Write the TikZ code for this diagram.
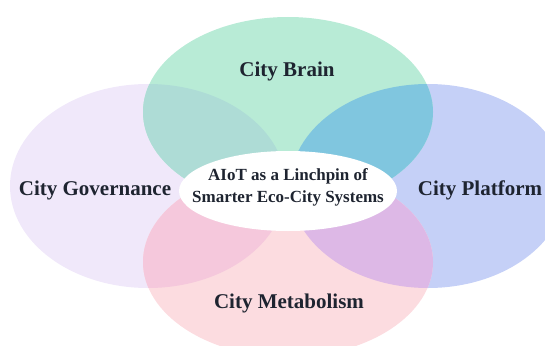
\documentclass[tikz,border=0pt]{standalone}
\usepackage{fontspec}
\setmainfont{Liberation Serif}
\usetikzlibrary{positioning}

\definecolor{ink}{HTML}{1E2430}
\definecolor{brain}{HTML}{B8EBD6}
\definecolor{gov}{HTML}{F0E8FA}
\definecolor{plat}{HTML}{C5D0F7}
\definecolor{metab}{HTML}{FCDCE0}
\definecolor{braingov}{HTML}{AEDCD6}
\definecolor{brainplat}{HTML}{80C6DF}
\definecolor{metabgov}{HTML}{F5C8DC}
\definecolor{metabplat}{HTML}{DDB8E6}

% ellipse paths (pixel units, y downwards)
\def\brainpath{(288,112) ellipse (145 and 95)}
\def\govpath{(148,186) ellipse (138 and 102)}
\def\platpath{(428,186) ellipse (138 and 102)}
\def\metabpath{(288,262) ellipse (145 and 95)}

\begin{document}
\begin{tikzpicture}[x=1pt, y=-1pt,
    ring label/.style={font=\fontsize{21}{25}\selectfont\bfseries, text=ink},
    hub label/.style={font=\fontsize{17}{22}\selectfont\bfseries, text=ink, align=center}]

		\useasboundingbox (0,0) rectangle (545,345);

		\fill[gov] \govpath;
		\fill[plat] \platpath;
		\fill[brain] \brainpath;
		\fill[metab] \metabpath;

		% overlaps
		\begin{scope} \clip \brainpath; \fill[braingov] \govpath; \end{scope}
		\begin{scope} \clip \brainpath; \fill[brainplat] \platpath; \end{scope}
		\begin{scope} \clip \metabpath; \fill[metabgov] \govpath; \end{scope}
		\begin{scope} \clip \metabpath; \fill[metabplat] \platpath; \end{scope}

		\fill[white] (288,191) ellipse (109 and 40);

		\node [ring label] (brain) at (287,71) {City Brain};
		\node [ring label] (gov) at (95,190) {City Governance};
		\node [ring label] (plat) at (480,190) {City Platform};
		\node [ring label] (metab) at (289,303) {City Metabolism};
		\node [hub label] (hub) at (288,187) {AIoT as a Linchpin of\\Smarter Eco-City Systems};

		\end{tikzpicture}
\end{document}
